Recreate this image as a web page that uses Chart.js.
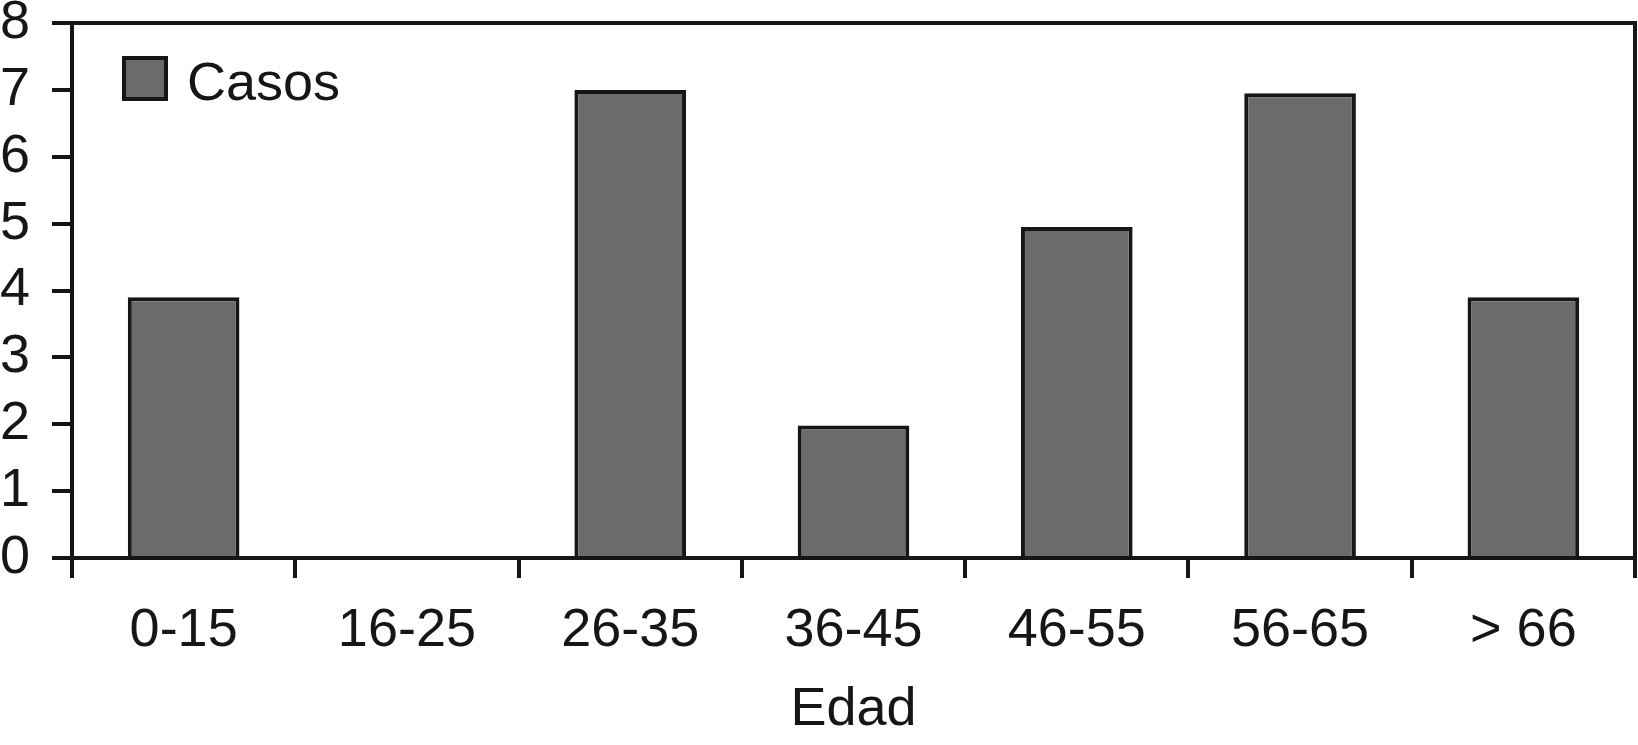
<!DOCTYPE html>
<html>
<head>
<meta charset="utf-8">
<script src="https://cdn.jsdelivr.net/npm/chart.js@4/dist/chart.umd.min.js"></script>
<style>
  html, body { margin: 0; padding: 0; background: #ffffff; }
  #wrap { width: 1638px; height: 745px; }
</style>
</head>
<body>
<div id="wrap"><canvas id="c" width="1638" height="745"></canvas></div>
<script>
const categories = ['0-15', '16-25', '26-35', '36-45', '46-55', '56-65', '> 66'];
const casos = [3.9, 0, 7, 1.98, 4.95, 6.95, 3.9];
const seriesLabel = 'Casos';
const xTitle = 'Edad';
const yMin = 0, yMax = 8, yStep = 1;

const INK = '#161616';
const BAR = '#6b6b6b';
const FONT = '"Liberation Sans", Arial, Helvetica, sans-serif';
const LW = 4;

const framePlugin = {
  id: 'frame',
  afterDraw(chart) {
    const {ctx, chartArea: a} = chart;
    ctx.save();
    ctx.strokeStyle = INK;
    ctx.lineWidth = LW;
    ctx.lineCap = 'butt';
    ctx.beginPath();
    ctx.moveTo(a.left, a.top);
    ctx.lineTo(a.right + LW / 2, a.top);
    ctx.moveTo(a.right, a.top);
    ctx.lineTo(a.right, a.bottom);
    ctx.stroke();
    // legend inside plot
    const ds = chart.data.datasets[0];
    const bx = 124, by = 58, bw = 42, bh = 41;
    ctx.fillStyle = ds.backgroundColor;
    ctx.fillRect(bx, by, bw, bh);
    ctx.lineWidth = LW;
    ctx.strokeStyle = INK;
    ctx.strokeRect(bx, by, bw, bh);
    ctx.fillStyle = INK;
    ctx.font = '54px ' + FONT;
    ctx.textBaseline = 'alphabetic';
    ctx.textAlign = 'left';
    ctx.fillText(ds.label, 187, 100);
    ctx.restore();
  }
};

new Chart(document.getElementById('c'), {
  type: 'bar',
  data: {
    labels: categories,
    datasets: [{
      label: seriesLabel,
      data: casos,
      backgroundColor: BAR,
      borderColor: INK,
      borderWidth: LW,
      borderSkipped: 'bottom',
      categoryPercentage: 1,
      barPercentage: 0.5
    }]
  },
  options: {
    responsive: false,
    animation: false,
    devicePixelRatio: 1,
    layout: { padding: { left: 0, right: 3, top: 23, bottom: 0 } },
    plugins: {
      legend: { display: false },
      tooltip: { enabled: false }
    },
    scales: {
      x: {
        type: 'category',
        offset: true,
        grid: {
          offset: true,
          drawOnChartArea: false,
          drawTicks: true,
          tickLength: 20,
          color: INK,
          lineWidth: LW
        },
        border: { display: true, color: INK, width: LW },
        ticks: {
          color: INK,
          font: { family: FONT, size: 54 },
          padding: 21,
          maxRotation: 0,
          autoSkip: false
        },
        title: {
          display: true,
          text: xTitle,
          color: INK,
          font: { family: FONT, size: 54 },
          padding: { top: 0, bottom: 2 }
        },
        afterFit(s) { s.height = 187; s.paddingLeft = 0; s.paddingRight = 0; }
      },
      y: {
        min: yMin,
        max: yMax,
        grid: {
          drawOnChartArea: false,
          drawTicks: true,
          tickLength: 20,
          color: INK,
          lineWidth: LW
        },
        border: { display: true, color: INK, width: LW },
        ticks: {
          stepSize: yStep,
          color: INK,
          font: { family: FONT, size: 54, lineHeight: 0.8 },
          padding: 22
        },
        afterFit(s) { s.width = 72; s.paddingTop = 0; s.paddingBottom = 0; }
      }
    }
  },
  plugins: [framePlugin]
});
</script>
</body>
</html>
